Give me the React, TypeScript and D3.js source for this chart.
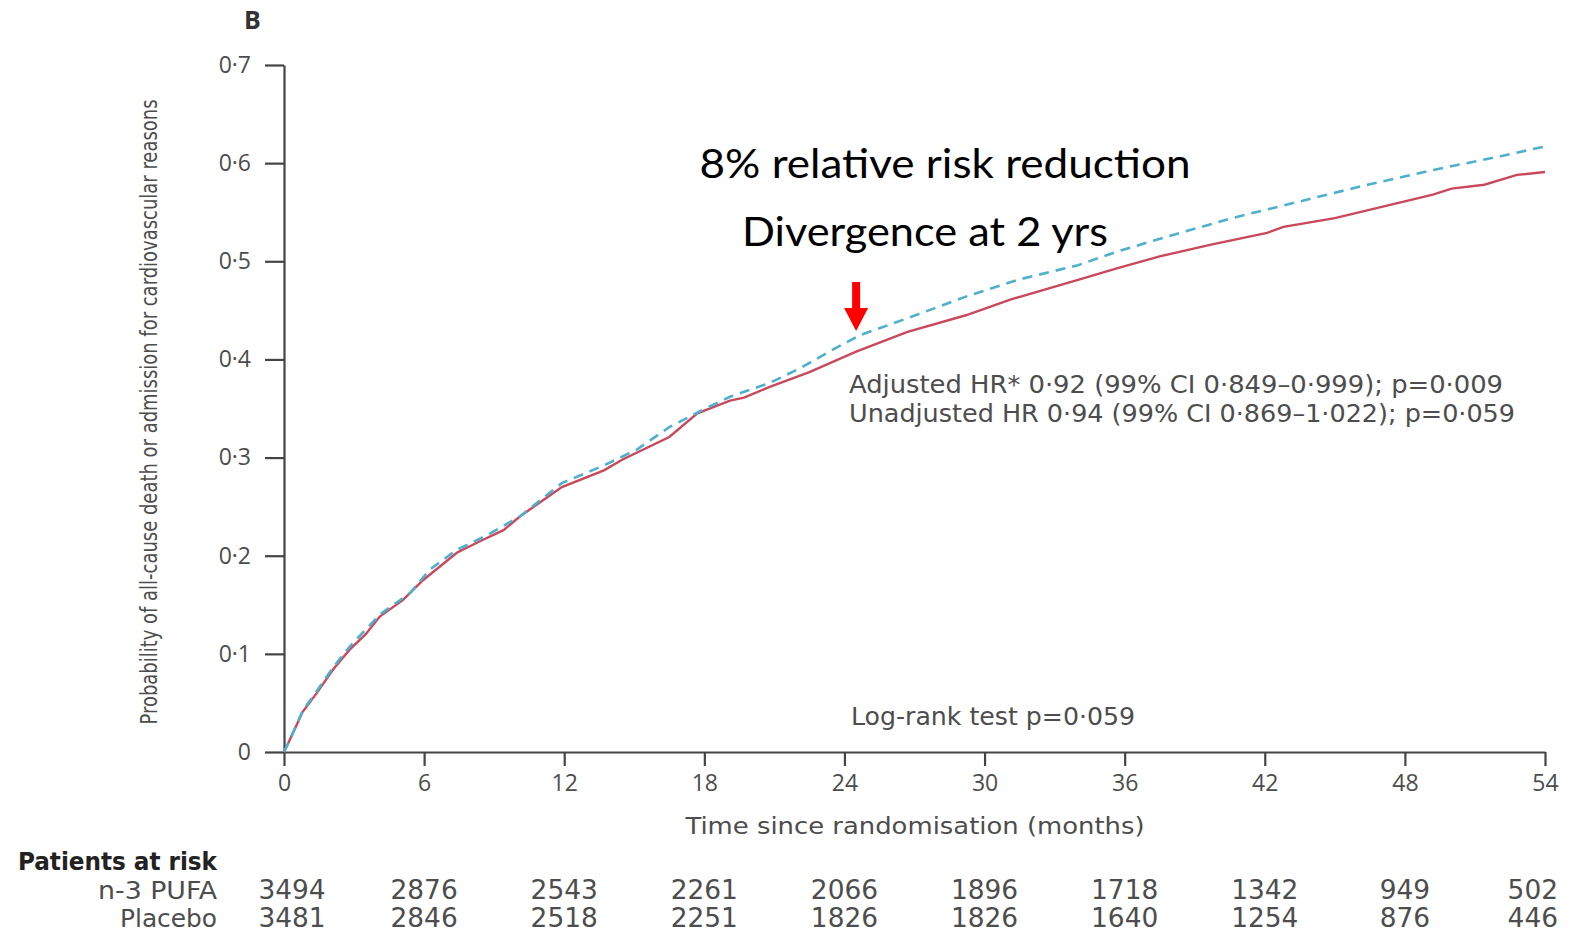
import React, { useEffect, useRef } from 'react';
import * as d3 from 'd3';

// curve readings (months, probability)
const pufaMonths = [0, 0.3, 0.8, 1.4, 2.1, 2.8, 3.5, 4.1, 5.1, 5.95, 7.4, 8.5, 9.4, 10.1, 11.0, 11.9, 13.7, 14.5, 16.5, 17.7, 19.1, 19.7, 20.8, 22.5, 24.5, 26.7, 29.2, 31.1, 34.0, 35.7, 37.5, 39.7, 42.1, 42.8, 45.0, 47.1, 49.2, 50.0, 51.4, 52.8, 54.0];
const pufaValues = [0, 0.015, 0.041, 0.06, 0.084, 0.104, 0.12, 0.138, 0.155, 0.175, 0.203, 0.216, 0.226, 0.24, 0.255, 0.27, 0.287, 0.298, 0.321, 0.345, 0.358, 0.361, 0.372, 0.387, 0.408, 0.428, 0.445, 0.461, 0.481, 0.493, 0.505, 0.517, 0.529, 0.535, 0.544, 0.556, 0.568, 0.574, 0.578, 0.588, 0.591];

const placeboMonths = [0, 0.3, 0.8, 1.4, 2.1, 2.8, 4.1, 5.4, 6.25, 7.4, 8.7, 10.1, 11.9, 13.7, 15.1, 16.5, 17.8, 19.1, 20.8, 22.1, 23.5, 24.7, 26.7, 29.2, 31.4, 34.0, 35.7, 37.8, 40.6, 43.5, 46.4, 49.2, 52.1, 54.0];
const placeboValues = [0, 0.015, 0.042, 0.062, 0.086, 0.107, 0.14, 0.162, 0.186, 0.206, 0.221, 0.24, 0.274, 0.292, 0.308, 0.331, 0.347, 0.362, 0.376, 0.391, 0.41, 0.425, 0.442, 0.464, 0.481, 0.496, 0.51, 0.525, 0.544, 0.561, 0.578, 0.593, 0.607, 0.617];

const xTicks = [0, 6, 12, 18, 24, 30, 36, 42, 48, 54];
const yTicks = [0, 0.1, 0.2, 0.3, 0.4, 0.5, 0.6, 0.7];

const riskRows = ['n-3 PUFA', 'Placebo'];
const pufaAtRisk = [3494, 2876, 2543, 2261, 2066, 1896, 1718, 1342, 949, 502];
const placeboAtRisk = [3481, 2846, 2518, 2251, 1826, 1826, 1640, 1254, 876, 446];

const hrLines = [
  'Adjusted HR* 0·92 (99% CI 0·849–0·999); p=0·009',
  'Unadjusted HR 0·94 (99% CI 0·869–1·022); p=0·059',
];
const logRankText = 'Log-rank test p=0·059';
const noteLines = ['8% relative risk reduction', 'Divergence at 2 yrs'];
const arrowMonth = 24.5;

const App = () => {
  const ref = useRef<SVGSVGElement | null>(null);

  useEffect(() => {
    const svg = d3.select(ref.current);
    svg.selectAll('*').remove();

    const font = "'Liberation Sans Narrow', 'DejaVu Sans Condensed', 'Open Sans', sans-serif";
    const grey = '#4d4d4d';

    // SCALES
    const x = d3.scaleLinear().domain([0, 54]).range([284, 1545]);
    const y = d3.scaleLinear().domain([0, 0.7]).range([752, 65]);
    const fmt = (d: number) => (d === 0 ? '0' : d3.format('.1f')(d).replace('.', '·'));

    // AXES
    const yAxis = svg.append('g')
      .attr('transform', 'translate(284,0)')
      .call(d3.axisLeft(y).tickValues(yTicks).tickSize(19).tickSizeOuter(0).tickPadding(14).tickFormat(fmt as any));
    const xAxis = svg.append('g')
      .attr('transform', 'translate(0,752)')
      .call(d3.axisBottom(x).tickValues(xTicks).tickSize(14).tickSizeOuter(0).tickPadding(9));
    [yAxis, xAxis].forEach(g => {
      g.selectAll('path, line').attr('stroke', '#444').attr('stroke-width', 2.2);
      g.selectAll('text').attr('fill', grey).attr('font-family', "'Open Sans', sans-serif").attr('font-size', 23);
    });

    // AXIS TITLES
    svg.append('text')
      .attr('transform', 'translate(157,412) rotate(-90)')
      .attr('text-anchor', 'middle')
      .attr('font-family', font).attr('font-size', 23).attr('fill', grey)
      .attr('textLength', 625).attr('lengthAdjust', 'spacingAndGlyphs')
      .text('Probability of all-cause death or admission for cardiovascular reasons');
    svg.append('text')
      .attr('x', 915).attr('y', 834)
      .attr('text-anchor', 'middle')
      .attr('font-family', font).attr('font-size', 23).attr('fill', grey)
      .attr('textLength', 459).attr('lengthAdjust', 'spacingAndGlyphs')
      .text('Time since randomisation (months)');
    svg.append('text')
      .attr('x', 244).attr('y', 29)
      .attr('font-family', "'Open Sans', sans-serif").attr('font-weight', 700)
      .attr('font-size', 25).attr('fill', '#333')
      .text('B');

    // CURVES
    const line = d3.line<[number, number]>().x(d => x(d[0])).y(d => y(d[1]));
    svg.append('path')
      .datum(pufaMonths.map((m, i) => [m, pufaValues[i]] as [number, number]))
      .attr('d', line).attr('fill', 'none')
      .attr('stroke', '#c9485b').attr('stroke-width', 2.4);
    svg.append('path')
      .datum(placeboMonths.map((m, i) => [m, placeboValues[i]] as [number, number]))
      .attr('d', line).attr('fill', 'none')
      .attr('stroke', '#4fb0cc').attr('stroke-width', 2.6)
      .attr('stroke-dasharray', '10 7');

    // HR AND LOG-RANK TEXT
    hrLines.forEach((t, i) => {
      svg.append('text')
        .attr('x', 849).attr('y', 393 + i * 29)
        .attr('font-family', font).attr('font-size', 24).attr('fill', grey)
        .attr('textLength', i === 0 ? 654 : 666).attr('lengthAdjust', 'spacingAndGlyphs')
        .text(t);
    });
    svg.append('text')
      .attr('x', 851).attr('y', 725)
      .attr('font-family', font).attr('font-size', 24).attr('fill', grey)
      .attr('textLength', 284).attr('lengthAdjust', 'spacingAndGlyphs')
      .text(logRankText);

    // ANNOTATION + ARROW
    noteLines.forEach((t, i) => {
      svg.append('text')
        .attr('x', i === 0 ? 945 : 925).attr('y', i === 0 ? 178 : 246)
        .attr('text-anchor', 'middle')
        .attr('font-family', "Lato, 'Open Sans', sans-serif").attr('font-size', 40).attr('fill', '#000')
        .attr('textLength', i === 0 ? 491 : 366).attr('lengthAdjust', 'spacingAndGlyphs')
        .text(t);
    });
    const ax = x(arrowMonth);
    svg.append('rect').attr('x', ax - 4).attr('y', 282).attr('width', 8).attr('height', 28).attr('fill', '#ff0000');
    svg.append('path')
      .attr('d', `M${ax - 12},308 L${ax + 12},308 L${ax},331 Z`)
      .attr('fill', '#ff0000');

    // PATIENTS AT RISK TABLE
    svg.append('text')
      .attr('x', 18).attr('y', 870)
      .attr('font-family', font).attr('font-weight', 700).attr('font-size', 25).attr('fill', '#222')
      .attr('textLength', 199).attr('lengthAdjust', 'spacingAndGlyphs')
      .text('Patients at risk');
    [pufaAtRisk, placeboAtRisk].forEach((row, r) => {
      const yy = 899 + r * 28;
      svg.append('text')
        .attr('x', 217).attr('y', yy)
        .attr('text-anchor', 'end')
        .attr('font-family', font).attr('font-size', 25).attr('fill', grey)
        .attr('textLength', r === 0 ? 119 : 97).attr('lengthAdjust', 'spacingAndGlyphs')
        .text(riskRows[r]);
      row.forEach((v, i) => {
        const last = i === row.length - 1;
        svg.append('text')
          .attr('x', last ? 1558 : x(xTicks[i]) + (i === 0 ? 8 : 0)).attr('y', yy)
          .attr('text-anchor', last ? 'end' : 'middle')
          .attr('font-family', font).attr('font-size', 27).attr('fill', grey)
          .attr('textLength', String(v).length * 16.8).attr('lengthAdjust', 'spacingAndGlyphs')
          .text(v);
      });
    });
  }, []);

  return (
    <svg ref={ref} width={1570} height={933}
      style={{ position: 'absolute', left: 0, top: 0, background: '#fff' }} />
  );
};

export default App;
